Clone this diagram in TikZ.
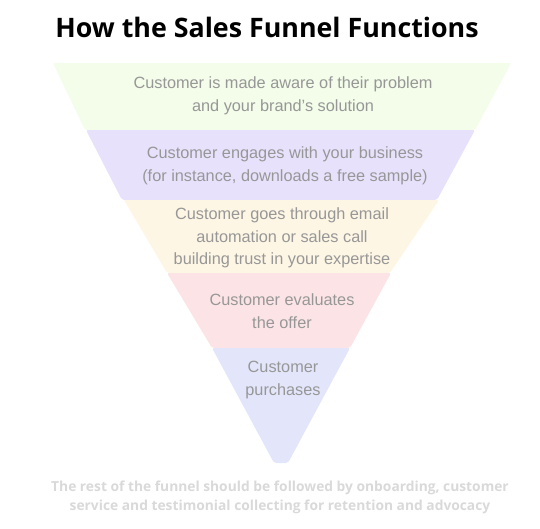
\documentclass[tikz,border=0pt]{standalone}
\usepackage{fontspec}
\setmainfont{Liberation Sans}
\newfontfamily\titlefont{Open Sans}
\definecolor{bgreen}{HTML}{F3FDE9}
\definecolor{bpurple}{HTML}{E8E1FC}
\definecolor{byellow}{HTML}{FDF6E4}
\definecolor{bpink}{HTML}{FCE4E6}
\definecolor{bblue}{HTML}{E3E6FB}
\definecolor{tgray}{HTML}{979797}
\definecolor{notegray}{HTML}{D9D9D9}
\begin{document}
\begin{tikzpicture}[x=1pt,y=-1pt,
  band/.style={rounded corners=2pt},
  lbl/.style={font=\fontsize{16.3}{22.5}\selectfont, text=tgray, align=center, inner sep=0pt}]
\useasboundingbox (0,0) rectangle (540,528);
\fill[band,bgreen]  (53,63) -- (511,63) -- (475,130) -- (85,130) -- cycle;
\fill[band,bpurple] (86,130) -- (475,130) -- (437,200) -- (122,200) -- cycle;
\fill[band,byellow] (124,200) -- (439,200) -- (390,273) -- (167,273) -- cycle;
\fill[band,bpink]   (167,273) -- (391,273) -- (350,348) -- (212,348) -- cycle;
\fill[band,bblue]   (212,348) -- (350,348) -- (288,463) -- (274,463) -- cycle;
\node[font=\titlefont\bfseries\fontsize{26.8}{32}\selectfont] (title) at (267,27) {How the Sales Funnel Functions};
\node[lbl] (s1) at (283,96) {Customer is made aware of their problem\\and your brand’s solution};
\node[lbl] (s2) at (285,166) {Customer engages with your business\\(for instance, downloads a free sample)};
\node[lbl] (s3) at (282,238) {Customer goes through email\\automation or sales call\\building trust in your expertise};
\node[lbl] (s4) at (282,311) {Customer evaluates\\the offer};
\node[lbl] (s5) at (283,380) {Customer\\purchases};
\node[font=\titlefont\bfseries\fontsize{13.8}{19}\selectfont, text=notegray, align=center, inner sep=0pt] (note) at (280,497)
  {The rest of the funnel should be followed by onboarding, customer\\service and testimonial collecting for retention and advocacy};
\end{tikzpicture}
\end{document}
